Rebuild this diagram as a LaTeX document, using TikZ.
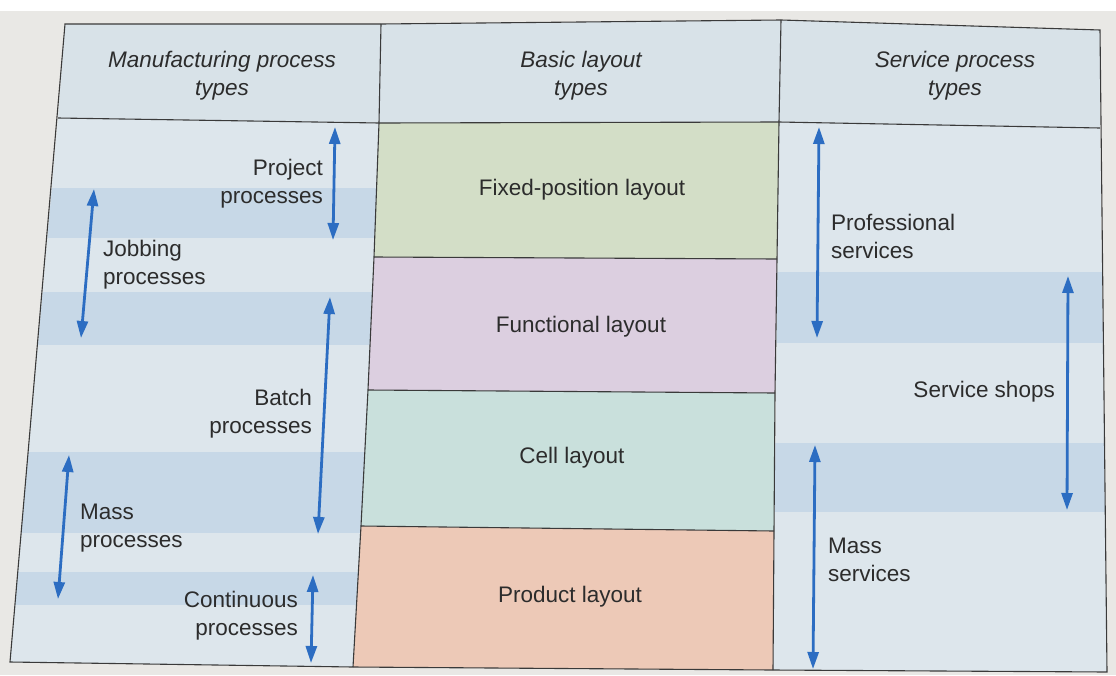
\documentclass[tikz,border=0pt]{standalone}
\usepackage{fontspec}
\setmainfont{Liberation Sans}
\usetikzlibrary{arrows.meta}

\definecolor{pagebg}{HTML}{E9E8E5}
\definecolor{cellbg}{HTML}{DDE6EC}
\definecolor{headbg}{HTML}{D8E2E8}
\definecolor{bandbg}{HTML}{C7D8E7}
\definecolor{fixedbg}{HTML}{D3DEC7}
\definecolor{funcbg}{HTML}{DCCFE0}
\definecolor{cellbox}{HTML}{C9E0DC}
\definecolor{prodbg}{HTML}{EDC9B7}
\definecolor{arrowblue}{HTML}{2C6DC2}
\definecolor{rule}{HTML}{3A3A3A}
\definecolor{ink}{HTML}{2C2C2C}

\tikzset{
  lbl/.style={inner sep=0pt, text=ink, font=\fontsize{22.5}{28}\selectfont},
  head/.style={lbl, align=center, font=\fontsize{22.5}{28}\selectfont\itshape},
  rng/.style={draw=arrowblue, line width=2.8pt,
    {Triangle[length=17pt,width=11pt]}-{Triangle[length=17pt,width=11pt]}},
  frame/.style={draw=rule, line width=1.1pt}
}

\begin{document}
\begin{tikzpicture}[x=1pt,y=-1pt]
\useasboundingbox (0,0) rectangle (1116,675);

% page
\fill[pagebg] (0,0) rectangle (1116,675);
\fill[white] (0,0) rectangle (1116,11);

% header row
\fill[headbg] (65,24) -- (381,24) -- (781,20) -- (1100,30) -- (1100,128)
  -- (779,122) -- (379,123) -- (58,118) -- cycle;

% left column body with shaded bands
\begin{scope}
  \clip (58,118) -- (379,123) -- (374,258) -- (368,391) -- (361,527)
    -- (353,667) -- (10,662) -- cycle;
  \fill[cellbg] (0,110) rectangle (390,675);
  \fill[bandbg] (0,188) rectangle (390,238);
  \fill[bandbg] (0,292) rectangle (390,345);
  \fill[bandbg] (0,452) rectangle (390,533);
  \fill[bandbg] (0,572) rectangle (390,605);
\end{scope}

% right column body with shaded bands
\begin{scope}
  \clip (779,122) -- (1100,128) -- (1107,672) -- (773,670) -- cycle;
  \fill[cellbg] (760,110) rectangle (1116,675);
  \fill[bandbg] (760,272) rectangle (1116,343);
  \fill[bandbg] (760,443) rectangle (1116,512);
\end{scope}

% layout blocks
\fill[fixedbg] (379,123) -- (779,122) -- (777,259) -- (374,257) -- cycle;
\fill[funcbg]  (374,257) -- (777,259) -- (775,393) -- (368,390) -- cycle;
\fill[cellbox] (368,390) -- (775,393) -- (774,531) -- (361,526) -- cycle;
\fill[prodbg]  (361,526) -- (774,531) -- (773,670) -- (353,667) -- cycle;

% rules
\draw[frame] (65,24) -- (381,24) -- (781,20) -- (1100,30) -- (1107,672)
  -- (773,670) -- (353,667) -- (10,662) -- cycle;
\draw[frame] (58,118) -- (379,123) -- (779,122) -- (1100,128);
\draw[frame] (381,24) -- (379,123) -- (374,257) -- (368,390) -- (361,526) -- (353,667);
\draw[frame] (781,20) -- (779,122) -- (777,259) -- (775,393) -- (774,531) -- (773,670);
\draw[frame] (374,257) -- (777,259);
\draw[frame] (368,390) -- (775,393);
\draw[frame] (361,526) -- (774,531);

% column headings
\node[head] (hman) at (222,76) {Manufacturing process\\types};
\node[head] (hlay) at (581,76) {Basic layout\\types};
\node[head] (hsrv) at (955,76) {Service process\\types};

% layout types
\node[lbl] (fixed) at (582,190) {Fixed-position layout};
\node[lbl] (func)  at (581,327) {Functional layout};
\node[lbl] (cell)  at (572,458) {Cell layout};
\node[lbl] (prod)  at (570,597) {Product layout};

% manufacturing process types
\node[lbl, align=right, anchor=east] (proj) at (323,184) {Project\\processes};
\node[lbl, align=left,  anchor=west] (job)  at (103,265) {Jobbing\\processes};
\node[lbl, align=right, anchor=east] (bat)  at (312,414) {Batch\\processes};
\node[lbl, align=left,  anchor=west] (mass) at (80,528)  {Mass\\processes};
\node[lbl, align=right, anchor=east] (cont) at (298,616) {Continuous\\processes};

% service process types
\node[lbl, align=left, anchor=west] (prof) at (831,236) {Professional\\services};
\node[lbl, anchor=east] (shop) at (1055,392) {Service shops};
\node[lbl, align=left, anchor=west] (msrv) at (828,560) {Mass\\services};

% span ends
\coordinate (projT) at (335,127); \coordinate (projB) at (333,240);
\coordinate (jobT)  at (94,189);  \coordinate (jobB)  at (81,338);
\coordinate (batT)  at (330,297); \coordinate (batB)  at (318,534);
\coordinate (massT) at (69,455);  \coordinate (massB) at (58,599);
\coordinate (contT) at (313,575); \coordinate (contB) at (311,663);
\coordinate (profT) at (819,127); \coordinate (profB) at (817,338);
\coordinate (shopT) at (1068,276);\coordinate (shopB) at (1067,510);
\coordinate (msrvT) at (815,445); \coordinate (msrvB) at (813,669);

% spans
\draw[rng] (projT) -- (projB);
\draw[rng] (jobT) -- (jobB);
\draw[rng] (batT) -- (batB);
\draw[rng] (massT) -- (massB);
\draw[rng] (contT) -- (contB);
\draw[rng] (profT) -- (profB);
\draw[rng] (shopT) -- (shopB);
\draw[rng] (msrvT) -- (msrvB);
\end{tikzpicture}
\end{document}
